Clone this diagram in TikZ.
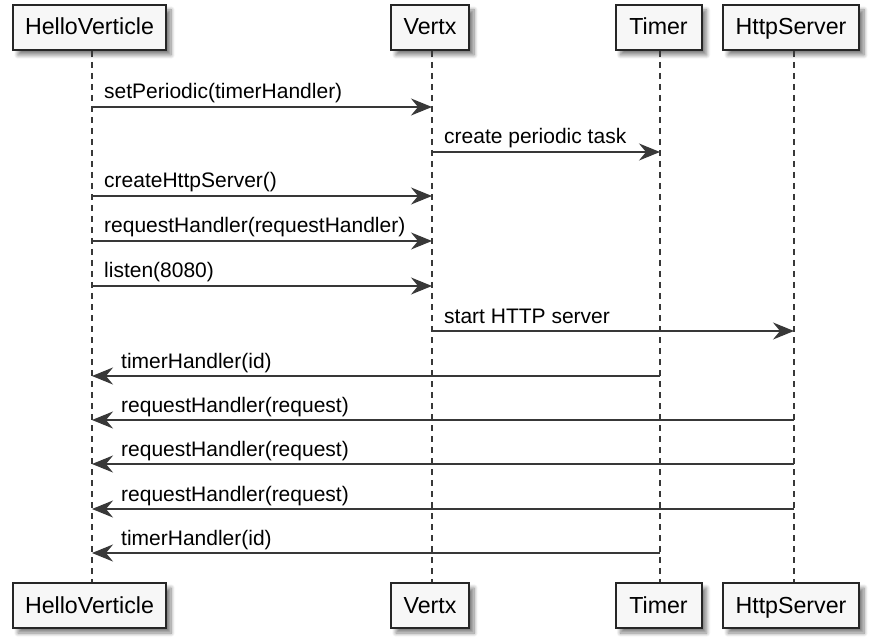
\documentclass[tikz,border=0pt]{standalone}
\usepackage{fontspec}
\setmainfont{Liberation Sans}
\usetikzlibrary{arrows.meta,shadows.blur}
\definecolor{lineclr}{HTML}{383838}
\definecolor{boxfill}{HTML}{F7F7F7}
\definecolor{boxdraw}{HTML}{262626}
\tikzset{
  participant/.style={draw=boxdraw, line width=2pt, fill=boxfill,
    minimum height=45pt, inner xsep=7pt, inner ysep=0pt,
    text height=18pt, text depth=3pt,
    font=\fontsize{23.2}{26}\selectfont,
    blur shadow={shadow xshift=5pt, shadow yshift=-5pt, shadow blur steps=8,
      shadow blur radius=4pt, shadow opacity=50}},
  lifeline/.style={draw=lineclr, line width=1.3pt, dash pattern=on 6pt off 5pt},
  msg/.style={draw=lineclr, line width=1.5pt,
    -{Stealth[length=21pt, width=17pt, inset=7pt]}},
  msgtext/.style={font=\fontsize{21}{24}\selectfont, inner sep=0pt, anchor=base west},
}
\begin{document}
\begin{tikzpicture}[x=1pt, y=-1pt]
\useasboundingbox (0,0) rectangle (875,644);
% participants, top and bottom
\node[participant, minimum width=153pt] (hvT) at (89.5,27.5) {HelloVerticle};
\node[participant, minimum width=78pt] (vxT) at (430,27.5) {Vertx};
\node[participant, minimum width=86pt] (tmT) at (658.5,27.5) {Timer};
\node[participant, minimum width=136pt] (hsT) at (791,27.5) {HttpServer};
\node[participant, minimum width=153pt] (hvB) at (89.5,605.5) {HelloVerticle};
\node[participant, minimum width=78pt] (vxB) at (430,605.5) {Vertx};
\node[participant, minimum width=86pt] (tmB) at (658.5,605.5) {Timer};
\node[participant, minimum width=136pt] (hsB) at (791,605.5) {HttpServer};
% lifelines
\coordinate (hvU) at (92,51);  \coordinate (hvD) at (92,582);
\coordinate (vxU) at (432,51); \coordinate (vxD) at (432,582);
\coordinate (tmU) at (660,51); \coordinate (tmD) at (660,582);
\coordinate (hsU) at (794,51); \coordinate (hsD) at (794,582);
\draw[lifeline] (hvU) -- (hvD);
\draw[lifeline] (vxU) -- (vxD);
\draw[lifeline] (tmU) -- (tmD);
\draw[lifeline] (hsU) -- (hsD);
% message anchors on the lifelines
\foreach \n/\y in {1/107,2/152,3/196,4/241,5/286,6/331,7/376,8/420,9/464,10/509,11/553}{
  \coordinate (hv\n) at (92,\y);
  \coordinate (vx\n) at (432,\y);
  \coordinate (tm\n) at (660,\y);
  \coordinate (hs\n) at (794,\y);
}
% messages
\draw[msg] (hv1) -- (vx1);
\node[msgtext] (t1) at ([shift={(12,-8)}]hv1) {setPeriodic(timerHandler)};
\draw[msg] (vx2) -- (tm2);
\node[msgtext] (t2) at ([shift={(12,-8)}]vx2) {create periodic task};
\draw[msg] (hv3) -- (vx3);
\node[msgtext] (t3) at ([shift={(12,-8)}]hv3) {createHttpServer()};
\draw[msg] (hv4) -- (vx4);
\node[msgtext] (t4) at ([shift={(12,-8)}]hv4) {requestHandler(requestHandler)};
\draw[msg] (hv5) -- (vx5);
\node[msgtext] (t5) at ([shift={(12,-8)}]hv5) {listen(8080)};
\draw[msg] (vx6) -- (hs6);
\node[msgtext] (t6) at ([shift={(12,-8)}]vx6) {start HTTP server};
\draw[msg] (tm7) -- (hv7);
\node[msgtext] (t7) at ([shift={(29,-8)}]hv7) {timerHandler(id)};
\draw[msg] (hs8) -- (hv8);
\node[msgtext] (t8) at ([shift={(29,-8)}]hv8) {requestHandler(request)};
\draw[msg] (hs9) -- (hv9);
\node[msgtext] (t9) at ([shift={(29,-8)}]hv9) {requestHandler(request)};
\draw[msg] (hs10) -- (hv10);
\node[msgtext] (t10) at ([shift={(29,-8)}]hv10) {requestHandler(request)};
\draw[msg] (tm11) -- (hv11);
\node[msgtext] (t11) at ([shift={(29,-8)}]hv11) {timerHandler(id)};
\end{tikzpicture}
\end{document}
